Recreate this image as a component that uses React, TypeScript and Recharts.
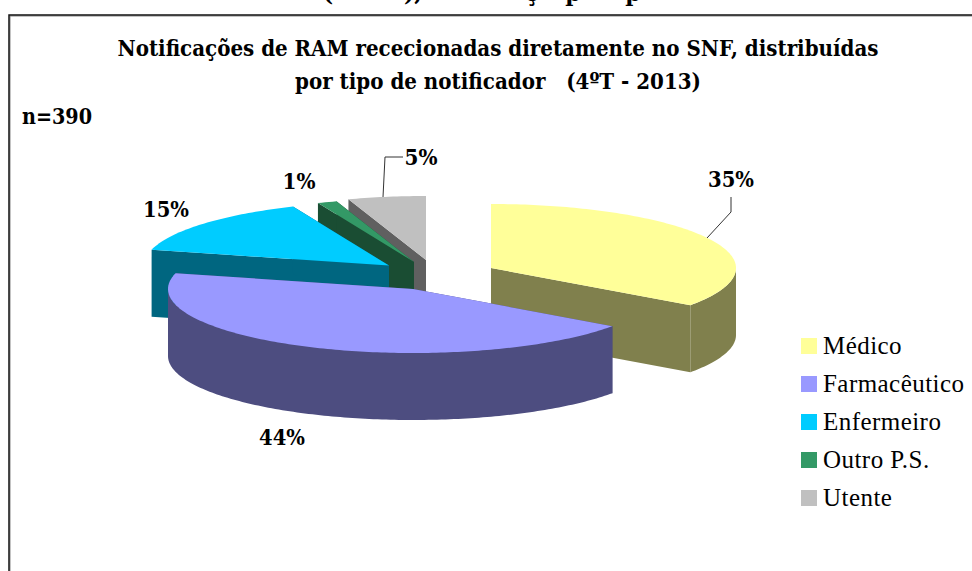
import { PieChart, Pie, Legend } from 'recharts';

const categories = ['Médico', 'Farmacêutico', 'Enfermeiro', 'Outro P.S.', 'Utente'];
const counts = [136, 172, 57, 5, 20];
const topColors = ['#FFFF99', '#9999FF', '#00CCFF', '#339966', '#C0C0C0'];
const sideColors = ['#80804D', '#4D4D80', '#006680', '#1A4D33', '#606060'];

// back to front, the pie is faked 3D so the painting order matters
const paintOrder = [4, 3, 2, 0, 1];

const titleLines = ['Notificações de RAM rececionadas diretamente no SNF, distribuídas', 'por tipo de notificador   (4ºT - 2013)'];
const sampleLabel = 'n=390';

const FONT = '"Liberation Serif", serif';
const BOLD_FONT = '"DejaVu Serif", serif';
const SQUASH = 64 / 245;
const DEPTH = 67;
const explode = [[51, -2], [-27, 19], [-51, -4.5], [-26, -8], [-14, -10]];
const labelSpots = [[731, 187], [282, 445], [166, 217], [299, 189], [421, 165]];
const labelWidths = [46, 46, 46, 33, 33];
const leaders: (string | null)[] = ['731,197 731,212 707,238', null, null, null, '403,157 385,157 383,197'];
// bits of the line above the frame, cropped by the top of the page
const croppedText = [['(', 328], ['),', 413], ['ç', 532], ['p', 573], ['p', 633]];

const data = categories.map((name, i) => ({ name, value: counts[i], fill: topColors[i] }));

function SliceOnly(props: any, only: number) {
  const i = categories.indexOf(props.name);
  if (i !== only) return <g />;
  const { cx, cy, outerRadius: r, startAngle, endAngle } = props;
  const x0 = cx + explode[i][0];
  const y0 = cy + explode[i][1];
  const from = 90 - startAngle;
  const to = 90 - endAngle;
  const pt = (deg: number, dy = 0) => {
    const a = (deg * Math.PI) / 180;
    return [x0 + r * Math.sin(a), y0 - r * SQUASH * Math.cos(a) + dy];
  };
  const arc = (a: number, b: number, dy = 0) => {
    const out: string[] = [];
    const steps = Math.max(2, Math.ceil(b - a));
    for (let s = 0; s <= steps; s++) out.push(pt(a + ((b - a) * s) / steps, dy).join(','));
    return out;
  };
  const apex = `${x0},${y0}`;
  const apexLow = `${x0},${y0 + DEPTH}`;
  const side = sideColors[i];
  const wall = (deg: number) => `${apex} ${pt(deg).join(',')} ${pt(deg, DEPTH).join(',')} ${apexLow}`;
  const rimFrom = Math.max(from, 90);
  const rimTo = Math.min(to, 270);
  return (
    <g>
      <polygon points={wall(from)} fill={side} />
      <polygon points={wall(to)} fill={side} />
      {rimTo > rimFrom && (
        <polygon points={[...arc(rimFrom, rimTo), ...arc(rimFrom, rimTo, DEPTH).reverse()].join(' ')} fill={side} />
      )}
      <polygon points={[apex, ...arc(from, to)].join(' ')} fill={topColors[i]} />
    </g>
  );
}

const renderLabel = (props: any) => {
  const i = categories.indexOf(props.name);
  const [x, y] = labelSpots[i];
  return (
    <g>
      {leaders[i] && <polyline points={leaders[i] as string} fill="none" stroke="#333" strokeWidth={1} />}
      <text x={x} y={y} textAnchor="middle" fontFamily={BOLD_FONT} fontWeight="bold" fontSize={22} fill="#000"
        textLength={labelWidths[i]} lengthAdjust="spacingAndGlyphs">
        {Math.round(props.percent * 100)}%
      </text>
    </g>
  );
};

// every Pie pass reports its rows, keep one per category
const LegendBox = ({ payload }: any) => (
  <div style={{ fontFamily: FONT, fontSize: 25, letterSpacing: 0.45, color: '#000' }}>
    {categories.map((name, i) => {
      const row = (payload || []).find((p: any) => p.value === name);
      return (
        <div key={name} style={{ height: 38, display: 'flex', alignItems: 'center' }}>
          <span style={{ width: 16, height: 16, background: row?.payload?.fill ?? topColors[i], marginRight: 6 }} />
          {name}
        </div>
      );
    })}
  </div>
);

export default function App() {
  return (
    <div style={{ position: 'absolute', left: 0, top: 0, width: 972, height: 571, overflow: 'hidden', background: '#fff' }}>
      <PieChart width={972} height={571} margin={{ top: 0, right: 0, bottom: 0, left: 0 }}>
        {/* frame */}
        <polyline points="9,571 9,15 972,15" fill="none" stroke="#888" strokeWidth={1} transform="translate(1,1)" />
        <polyline points="9,571 9,15 972,15" fill="none" stroke="#111" strokeWidth={1.5} />
        {croppedText.map(([t, x]) => (
          <text key={String(x)} x={x as number} y={1} textAnchor="middle" fontFamily={BOLD_FONT} fontWeight="bold" fontSize={22}>{t}</text>
        ))}
        <text x={498} y={56} textAnchor="middle" fontFamily={BOLD_FONT} fontWeight="bold" fontSize={22} textLength={761} lengthAdjust="spacingAndGlyphs">{titleLines[0]}</text>
        <text x={498} y={89} textAnchor="middle" fontFamily={BOLD_FONT} fontWeight="bold" fontSize={22} textLength={406} lengthAdjust="spacingAndGlyphs" xmlSpace="preserve">{titleLines[1]}</text>
        <text x={22} y={124} fontFamily={BOLD_FONT} fontWeight="bold" fontSize={22} textLength={70} lengthAdjust="spacingAndGlyphs">{sampleLabel}</text>
        {paintOrder.map((only, n) => (
          <Pie
            key={only}
            data={data}
            dataKey="value"
            nameKey="name"
            cx={440}
            cy={270}
            outerRadius={245}
            startAngle={90}
            endAngle={-270}
            stroke="none"
            isAnimationActive={false}
            legendType={n === 0 ? 'square' : 'none'}
            labelLine={false}
            label={n === paintOrder.length - 1 ? renderLabel : false}
            shape={(p: any) => SliceOnly(p, only)}
          />
        ))}
        <Legend layout="vertical" align="center" verticalAlign="middle" wrapperStyle={{ left: 801, top: 327, width: 171 }} content={<LegendBox />} />
      </PieChart>
    </div>
  );
}
